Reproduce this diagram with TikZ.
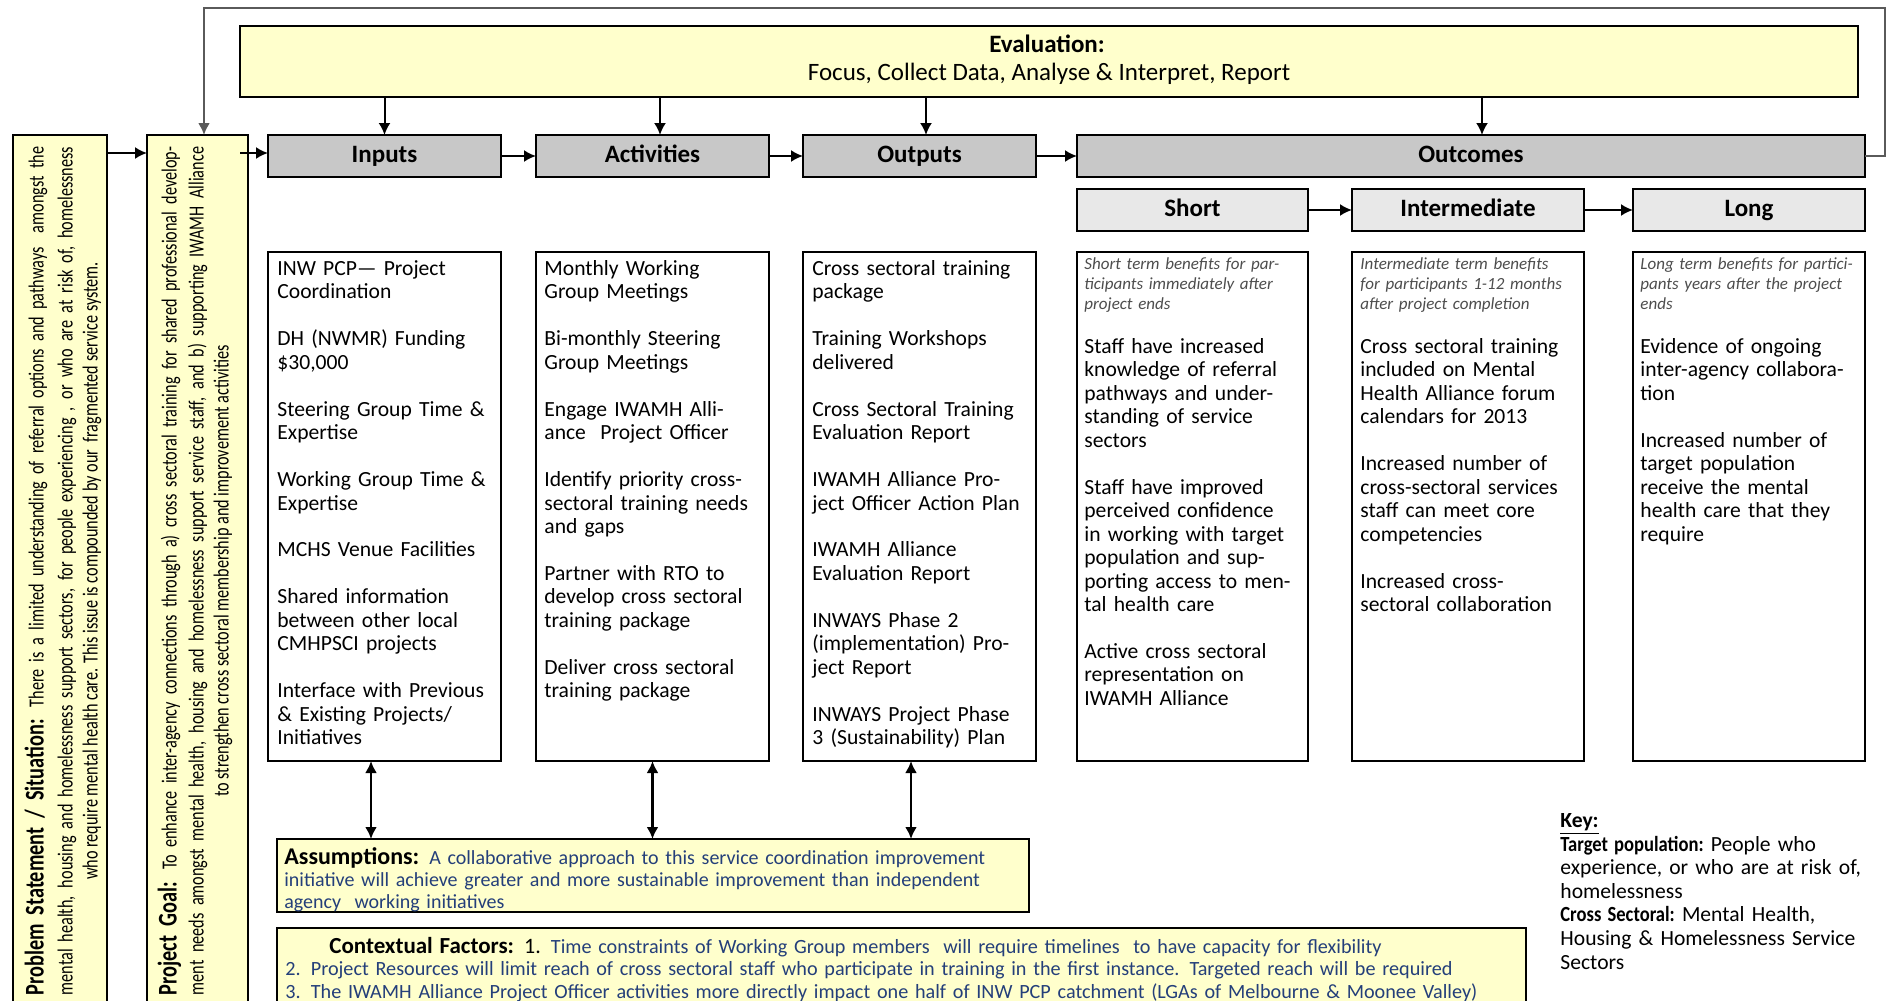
\documentclass[tikz,border=0pt]{standalone}
\usepackage{fontspec}
\setmainfont{Carlito}
\usepackage{graphicx}
\usetikzlibrary{arrows.meta,calc}
\definecolor{ylw}{HTML}{FFFFCC}
\definecolor{gbox}{HTML}{C8C8C8}
\definecolor{lbox}{HTML}{E8E8E8}
\definecolor{btxt}{HTML}{243F7A}
\definecolor{fbc}{HTML}{5A5A5A}
\definecolor{itc}{HTML}{4D4D4D}
\newlength\rotW
\setlength\rotW{565pt}
\newcommand\fs{\rule{0pt}{9pt}}
\newcommand\boxnode[7]{\node[#1, minimum width={(#5-#3)*0.5pt}, minimum height={(#6-#4)*0.5pt}] (#2) at ({(#3+#5)/2},{(#4+#6)/2}) {#7};}
\begin{document}
\begin{tikzpicture}[x=0.5pt,y=-0.5pt,
  frame/.style={draw=black, line width=0.9pt, inner sep=0pt, outer sep=0pt},
  ybox/.style={frame, fill=ylw},
  gbx/.style={frame, fill=gbox, font=\fontsize{12.5}{14}\selectfont\bfseries, text height=8.6pt, text depth=2.6pt},
  lbx/.style={frame, fill=lbox, font=\fontsize{12.5}{14}\selectfont\bfseries, text height=8.6pt, text depth=2.6pt},
  wbox/.style={frame, line width=0.7pt, fill=white},
  arr/.style={-{Latex[length=6pt,width=6pt]}, line width=1pt},
  darr/.style={{Latex[length=6pt,width=6pt]}-{Latex[length=6pt,width=6pt]}, line width=1.2pt},
  fbk/.style={-{Latex[length=6pt,width=6pt]}, line width=1.1pt, draw=fbc},
  ctext/.style={anchor=north west, inner sep=0pt, text width=120pt, align=left, font=\fontsize{10.8}{11.73}\selectfont},
  itext/.style={anchor=north west, inner sep=0pt, text width=120pt, align=left, font=\fontsize{8.5}{10}\selectfont\itshape, text=itc},
  rtext/.style={rotate=90, inner sep=0pt}
]
\useasboundingbox[fill=white] (0,0) rectangle (1887,1001);

% side boxes
\boxnode{ybox}{prob}{13}{135}{107}{1010}{}
\boxnode{ybox}{goal}{147}{135}{248}{1010}{}
\node[rtext] (probT) at (63,571) {\scalebox{0.751}[1]{\vbox{\hsize=\rotW\fontsize{10.8}{12.5}\selectfont
\hbox to\rotW{{\fontsize{13.5}{14}\selectfont\bfseries Problem Statement / Situation:} There is a limited understanding of referral options and pathways\ \ amongst the}%
\vskip2pt
\hbox to\rotW{mental health, housing and homelessness support sectors, for people experiencing , or who are at risk of, homelessness}%
\hbox to\rotW{\hfil who require mental health care. This issue is compounded by our\ \ fragmented service system.\hfil}}}};
\node[rtext] (goalT) at (195,571) {\scalebox{0.751}[1]{\vbox{\hsize=\rotW\fontsize{10.8}{12.5}\selectfont
\hbox to\rotW{{\fontsize{13.5}{14}\selectfont\bfseries Project Goal:} To enhance inter-agency connections through a) cross sectoral training for shared professional develop-}%
\vskip1pt
\hbox to\rotW{ment needs amongst mental health, housing and homelessness support service staff, and b) supporting IWAMH Alliance}%
\hbox to\rotW{\hfil to strengthen cross sectoral membership and improvement activities\hfil}}}};

% evaluation
\boxnode{ybox}{eval}{240}{26}{1858}{97}{}
\node[anchor=base, inner sep=0pt, font=\fontsize{12.5}{14}\selectfont\bfseries] (evalT1) at (1047,53) {Evaluation:};
\node[anchor=base, inner sep=0pt, font=\fontsize{12.5}{14}\selectfont] (evalT2) at (1049,80) {Focus, Collect Data, Analyse \& Interpret, Report};

% header row
\boxnode{gbx}{inputs}{268}{135}{501}{177}{Inputs}
\boxnode{gbx}{activities}{536}{135}{769}{177}{Activities}
\boxnode{gbx}{outputs}{803}{135}{1036}{177}{Outputs}
\boxnode{gbx}{outcomes}{1077}{135}{1865}{177}{Outcomes}
\boxnode{lbx}{short}{1077}{189}{1308}{231}{Short}
\boxnode{lbx}{inter}{1352}{189}{1584}{231}{Intermediate}
\boxnode{lbx}{long}{1633}{189}{1865}{231}{Long}

% content boxes
\boxnode{wbox}{inB}{268}{252}{501}{761}{}
\boxnode{wbox}{actB}{536}{252}{769}{761}{}
\boxnode{wbox}{outB}{803}{252}{1036}{761}{}
\boxnode{wbox}{shB}{1077}{252}{1308}{761}{}
\boxnode{wbox}{imB}{1352}{252}{1584}{761}{}
\boxnode{wbox}{loB}{1633}{252}{1865}{761}{}

\node[ctext] (inT) at (277,257) {\fs INW PCP— Project\\ Coordination\\[\baselineskip] DH (NWMR) Funding\\ \$30,000\\[\baselineskip] Steering Group Time \&\\ Expertise\\[\baselineskip] Working Group Time \&\\ Expertise\\[\baselineskip] MCHS Venue Facilities\\[\baselineskip] Shared information\\ between other local\\ CMHPSCI projects\\[\baselineskip] Interface with Previous\\ \& Existing Projects/\\ Initiatives};
\node[ctext] (actT) at (544,257) {\fs Monthly Working\\ Group Meetings\\[\baselineskip] Bi-monthly Steering\\ Group Meetings\\[\baselineskip] Engage IWAMH Alli-\\ ance\ \ Project Officer\\[\baselineskip] Identify priority cross-\\ sectoral training needs\\ and gaps\\[\baselineskip] Partner with RTO to\\ develop cross sectoral\\ training package\\[\baselineskip] Deliver cross sectoral\\ training package};
\node[ctext] (outT) at (812,257) {\fs Cross sectoral training\\ package\\[\baselineskip] Training Workshops\\ delivered\\[\baselineskip] Cross Sectoral Training\\ Evaluation Report\\[\baselineskip] IWAMH Alliance Pro-\\ ject Officer Action Plan\\[\baselineskip] IWAMH Alliance\\ Evaluation Report\\[\baselineskip] INWAYS Phase 2\\ (implementation) Pro-\\ ject Report\\[\baselineskip] INWAYS Project Phase\\ 3 (Sustainability) Plan};

\node[itext] (shI) at (1084,255) {\rule{0pt}{7pt}Short term benefits for par-\\ ticipants immediately after\\ project ends};
\node[itext] (imI) at (1360,255) {\rule{0pt}{7pt}Intermediate term benefits\\ for participants 1-12 months\\ after project completion};
\node[itext] (loI) at (1640,255) {\rule{0pt}{7pt}Long term benefits for partici-\\ pants years after the project\\ ends};

\node[ctext] (shT) at (1084,335) {\fs Staff have increased\\ knowledge of referral\\ pathways and under-\\ standing of service\\ sectors\\[\baselineskip] Staff have improved\\ perceived confidence\\ in working with target\\ population and sup-\\ porting access to men-\\ tal health care\\[\baselineskip] Active cross sectoral\\ representation on\\ IWAMH Alliance};
\node[ctext] (imT) at (1360,335) {\fs Cross sectoral training\\ included on Mental\\ Health Alliance forum\\ calendars for 2013\\[\baselineskip] Increased number of\\ cross-sectoral services\\ staff can meet core\\ competencies\\[\baselineskip] Increased cross-\\ sectoral collaboration};
\node[ctext] (loT) at (1640,335) {\fs Evidence of ongoing\\ inter-agency collabora-\\ tion\\[\baselineskip] Increased number of\\ target population\\ receive the mental\\ health care that they\\ require};

% assumptions and contextual factors
\boxnode{ybox}{ass}{277}{839}{1029}{912}{}
\node[anchor=north west, inner sep=0pt, align=left, text width=380pt, font=\fontsize{10}{10.9}\selectfont, text=btxt] (assT) at (284,846) {\fs{\color{black}\fontsize{12}{11}\selectfont\bfseries Assumptions:} A collaborative approach to this service coordination improvement\\ initiative will achieve greater and more sustainable improvement than independent\\ agency\ \ working initiatives};
\boxnode{ybox}{ctx}{277}{928}{1526}{1012}{}
\node[anchor=north west, inner sep=0pt, align=left, text width=630pt, font=\fontsize{10.1}{11.2}\selectfont, text=btxt] (ctxT) at (285,935) {\fs\hspace*{22pt}{\color{black}\fontsize{11.5}{11}\selectfont\bfseries Contextual Factors:} {\color{black}\fontsize{11}{11}\selectfont 1.} Time constraints of Working Group members\ \ will require timelines\ \ to have capacity for flexibility\\ 2. Project Resources will limit reach of cross sectoral staff who participate in training in the first instance. Targeted reach will be required\\ 3. The IWAMH Alliance Project Officer activities more directly impact one half of INW PCP catchment (LGAs of Melbourne \& Moonee Valley)};

% key
\node[anchor=north west, inner sep=0pt, align=left, text width=170pt, font=\fontsize{10.8}{11.8}\selectfont] (key) at (1560,809) {\fs\underline{\textbf{Key:}}\\ \scalebox{0.86}[1]{\textbf{Target population:}} People who\\ experience, or who are at risk of,\\ homelessness\\ \scalebox{0.86}[1]{\textbf{Cross Sectoral:}} Mental Health,\\ Housing \& Homelessness Service\\ Sectors};

% connectors
\coordinate (yl) at (0,153);
\draw[arr] (prob.east |- yl) -- (goal.west |- yl);
\draw[arr] ([xshift=-4pt]goal.east |- yl) -- (inputs.west |- yl);
\draw[arr] (inputs.east) -- (activities.west);
\draw[arr] (activities.east) -- (outputs.west);
\draw[arr] (outputs.east) -- (outcomes.west);
\draw[arr] (short.east) -- (inter.west);
\draw[arr] (inter.east) -- (long.west);
\draw[arr] (inputs.north |- eval.south) -- (inputs.north);
\draw[arr] ([xshift=3.75pt]activities.north |- eval.south) -- ([xshift=3.75pt]activities.north);
\draw[arr] ([xshift=3.25pt]outputs.north |- eval.south) -- ([xshift=3.25pt]outputs.north);
\draw[arr] ([xshift=5.5pt]outcomes.north |- eval.south) -- ([xshift=5.5pt]outcomes.north);
\draw[darr] ([xshift=-6.75pt]inB.south) -- ([xshift=-6.75pt]inB.south |- ass.north);
\draw[darr] (actB.south) -- (actB.south |- ass.north);
\draw[darr] ([xshift=-4.25pt]outB.south) -- ([xshift=-4.25pt]outB.south |- ass.north);
\coordinate (fbR) at (1885,8);
\draw[fbk] (outcomes.east) -| (fbR) -| ([xshift=3.25pt]goal.north);
\end{tikzpicture}
\end{document}
